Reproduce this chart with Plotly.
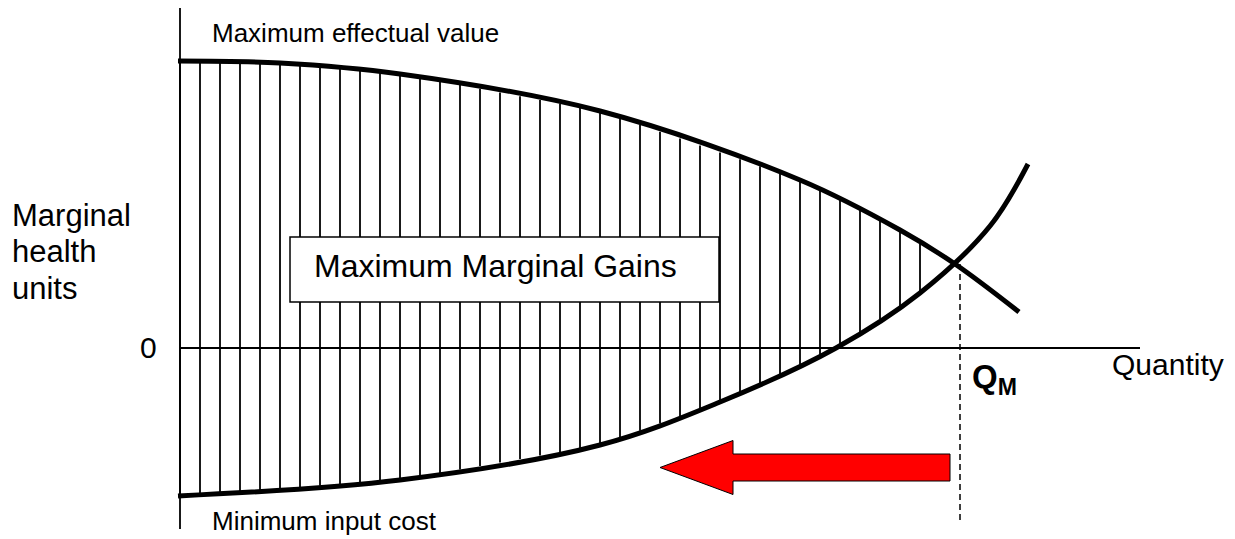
import numpy as np
import plotly.graph_objects as go

# ---- data (quantity units along x, marginal health units along y) ----
value_q = [-0.1, 5, 11, 21, 31, 36, 38.75, 41.95]
value_y = [28.7, 28.5, 27.4, 23.7, 16.8, 11.8, 8.4, 3.6]

cost_q = [-0.1, 11, 21, 27, 32.8, 37, 40.5, 42.4]
cost_y = [-14.8, -13.2, -9.7, -5.4, 0, 5.5, 12.2, 18.4]

hatch_quantities = list(range(0, 38))
q_m = 39.0
q_m_value = 8.4

axis_x_end = 48.0
axis_y_top = 34.3
axis_y_bottom = -18.1
dash_bottom = -17.4

arrow_from_q = 38.5
arrow_to_q = 24.0
arrow_y = -11.95

box_q = [5.5, 26.95]
box_y = [4.6, 11.1]

FONT = "Liberation Sans, Arial, sans-serif"

fig = go.Figure()

# hatch lines between the two curves
hx, hy = [], []
for q in hatch_quantities:
    lo = float(np.interp(q, cost_q, cost_y))
    hi = float(np.interp(q, value_q, value_y))
    hx += [q, q, None]
    hy += [lo, hi, None]
fig.add_trace(go.Scatter(x=hx, y=hy, mode="lines", line=dict(color="black", width=1.8),
                         hoverinfo="skip", showlegend=False))

# axes
fig.add_trace(go.Scatter(x=[0, axis_x_end], y=[0, 0], mode="lines",
                         line=dict(color="black", width=1.8), showlegend=False))
fig.add_trace(go.Scatter(x=[0, 0], y=[axis_y_bottom, axis_y_top], mode="lines",
                         line=dict(color="black", width=1.8), showlegend=False))

# curves
fig.add_trace(go.Scatter(x=value_q, y=value_y, mode="lines", line_shape="spline",
                         line=dict(color="black", width=5, smoothing=1.0), showlegend=False))
fig.add_trace(go.Scatter(x=cost_q, y=cost_y, mode="lines", line_shape="spline",
                         line=dict(color="black", width=5, smoothing=1.0), showlegend=False))

# dashed line at Q_M
fig.add_trace(go.Scatter(x=[q_m, q_m], y=[q_m_value, dash_bottom], mode="lines",
                         line=dict(color="black", width=1.5, dash="6px,4px"), showlegend=False))

# red arrow (pointing left)
head_len = 3.65
shaft_half = 1.35
head_half = 2.7
ax = [arrow_from_q, arrow_to_q + head_len, arrow_to_q + head_len, arrow_to_q,
      arrow_to_q + head_len, arrow_to_q + head_len, arrow_from_q, arrow_from_q]
ay = [arrow_y + shaft_half, arrow_y + shaft_half, arrow_y + head_half, arrow_y,
      arrow_y - head_half, arrow_y - shaft_half, arrow_y - shaft_half, arrow_y + shaft_half]
fig.add_trace(go.Scatter(x=ax, y=ay, mode="lines", fill="toself", fillcolor="#FF0000",
                         line=dict(color="black", width=1), showlegend=False))

# box
fig.add_shape(type="rect", x0=box_q[0], x1=box_q[1], y0=box_y[0], y1=box_y[1],
              line=dict(color="black", width=1.5), fillcolor="white", layer="above")

def label(text, x, y, size, xanchor="left"):
    fig.add_annotation(x=x, y=y, text=text, showarrow=False, xanchor=xanchor, yanchor="middle",
                       font=dict(family=FONT, size=size, color="black"))

label("Maximum Marginal Gains", 6.585, 8.25, 32)
label("Maximum effectual value", 1.5, 31.5, 26)
label("Minimum input cost", 1.5, -17.3, 26)
label("Marginal", -8.5, 13.3, 31)
label("health", -8.5, 9.65, 31)
label("units", -8.5, 6.0, 31)
label("0", -1.6, 0.1, 30, xanchor="center")
label("Quantity", 46.5, -1.6, 30)
label("<b>Q<sub>M</sub></b>", 39.5, -3.1, 33)

# page body has an 8px margin: ranges are set so the drawing lands where intended
fig.update_layout(
    width=1235, height=539,
    margin=dict(l=0, r=0, t=0, b=0),
    paper_bgcolor="white", plot_bgcolor="white",
    xaxis=dict(range=[-8.6, 53.15], visible=False, fixedrange=True),
    yaxis=dict(range=[-19.9, 34.0], visible=False, fixedrange=True),
    showlegend=False,
)

fig.write_html("out.html")
